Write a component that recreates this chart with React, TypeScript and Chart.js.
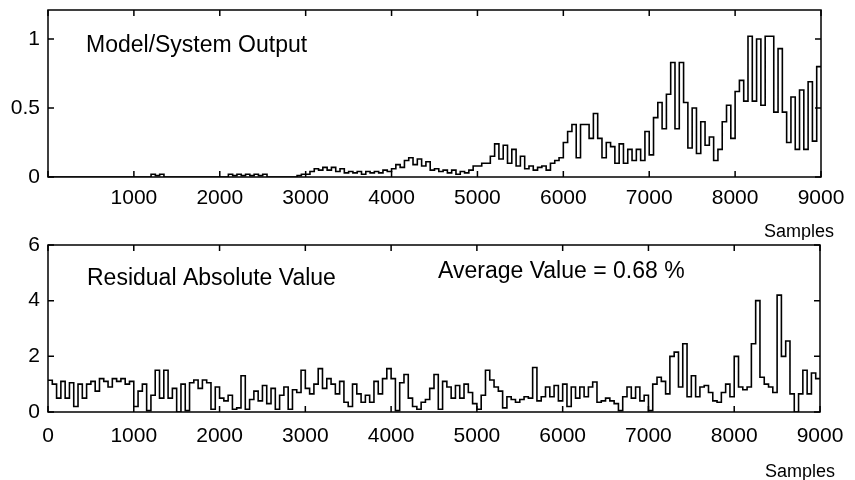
import React, { useEffect, useRef } from "react";
import { Chart, registerables } from "chart.js";

Chart.register(...registerables);

const SAMPLE_STEP = 50;
const X_MAX = 9000;
const xTickValues = [0, 1000, 2000, 3000, 4000, 5000, 6000, 7000, 8000, 9000];

const outputValues = [
  0, 0, 0, 0, 0, 0, 0, 0, 0, 0, 0, 0, 0, 0, 0, 0, 0, 0, 0, 0,
  0, 0, 0, 0, 0.02, 0.01, 0.02, 0, 0, 0, 0, 0, 0, 0, 0, 0, 0, 0, 0, 0,
  0, 0, 0.02, 0.01, 0.02, 0.01, 0.02, 0.01, 0.02, 0.01, 0.02, 0, 0, 0, 0, 0, 0, 0, 0.01, 0.02,
  0.02, 0.04, 0.06, 0.05, 0.07, 0.05, 0.07, 0.04, 0.06, 0.03, 0.04, 0.03, 0.04, 0.02, 0.04, 0.03, 0.04, 0.03, 0.05, 0.04,
  0.06, 0.09, 0.07, 0.12, 0.14, 0.09, 0.13, 0.08, 0.11, 0.05, 0.06, 0.04, 0.05, 0.03, 0.05, 0.02, 0.04, 0.03, 0.05, 0.08,
  0.08, 0.1, 0.1, 0.15, 0.24, 0.13, 0.23, 0.1, 0.2, 0.08, 0.15, 0.06, 0.08, 0.05, 0.07, 0.08, 0.05, 0.1, 0.12, 0.14,
  0.25, 0.33, 0.38, 0.14, 0.38, 0.38, 0.28, 0.46, 0.28, 0.14, 0.25, 0.22, 0.1, 0.24, 0.1, 0.2, 0.12, 0.2, 0.12, 0.33,
  0.16, 0.43, 0.54, 0.35, 0.6, 0.83, 0.35, 0.83, 0.54, 0.21, 0.5, 0.17, 0.4, 0.23, 0.29, 0.12, 0.2, 0.4, 0.52, 0.28,
  0.62, 0.7, 0.55, 1.02, 0.55, 1.0, 0.52, 1.02, 1.02, 0.47, 0.93, 0.47, 0.25, 0.58, 0.2, 0.63, 0.2, 0.69, 0.26, 0.8,
];

const residualValues = [
  1.14, 1.0, 0.5, 1.1, 0.5, 1.05, 0.2, 1.0, 0.5, 1.0, 1.1, 0.75, 1.2, 1.1, 0.9, 1.2, 1.1, 1.2, 1.0, 1.1,
  0.2, 0.75, 1.0, 0.05, 0.6, 1.5, 0.5, 1.5, 0.5, 0.85, 0, 1.0, 0.05, 1.05, 1.15, 0.85, 1.15, 1.05, 0.1, 0.9,
  0.5, 0.4, 0.6, 0.1, 0.15, 1.3, 0.1, 0.45, 0.75, 0.4, 0.95, 0.3, 0.85, 0.1, 0.6, 0.9, 0.1, 0.8, 0.7, 1.5,
  0.85, 0.65, 1.0, 1.56, 0.85, 1.2, 1.0, 0.65, 1.1, 0.35, 0.2, 1.0, 0.65, 0.35, 0.6, 0.35, 1.1, 0.65, 1.2, 1.56,
  1.2, 0.05, 1.05, 1.35, 0.5, 0.2, 0.1, 0.35, 0.45, 0.85, 1.35, 0.1, 1.1, 0.9, 0.5, 0.95, 0.5, 1.0, 0.7, 0.3,
  0.1, 0.6, 1.5, 1.15, 0.9, 0.75, 0.15, 0.55, 0.45, 0.35, 0.45, 0.55, 0.5, 1.6, 0.4, 0.55, 0.9, 0.55, 0.95, 0.4,
  1.0, 0.2, 0.9, 0.5, 0.9, 0.55, 0.9, 1.08, 0.35, 0.4, 0.5, 0.4, 0.3, 0.05, 0.55, 0.9, 0.5, 0.9, 0.4, 0.6,
  0.05, 1.0, 1.25, 1.1, 0.65, 2.0, 2.15, 0.9, 2.45, 0.55, 1.3, 0.55, 0.9, 0.95, 0.7, 0.4, 0.35, 0.7, 1.0, 0.55,
  2.0, 0.9, 0.8, 0.9, 2.45, 4.0, 1.25, 1.0, 0.9, 0.7, 4.2, 2.0, 2.55, 0.65, 0, 0.65, 1.5, 0.65, 1.4, 1.2,
];

const topTitle = "Model/System Output";
const bottomTitle = "Residual Absolute Value";
const averageLabel = "Average Value = 0.68 %";
const xAxisTitle = "Samples";

const FONT = "'Liberation Sans', Arial, Helvetica, sans-serif";

function toSteps(values: number[]) {
  const pts = values.map((v, i) => ({ x: i * SAMPLE_STEP, y: v }));
  pts.push({ x: X_MAX, y: values[values.length - 1] });
  return pts;
}

type TextItem = { text: string; x: number; y: number; size: number; align?: CanvasTextAlign };

const framePlugin = {
  id: "frame",
  afterDraw(chart: any, _args: any, opts: any) {
    const { ctx, chartArea: a, scales } = chart;
    const x = scales.x;
    const y = scales.y;
    ctx.save();
    ctx.strokeStyle = "#000";
    ctx.lineWidth = 1.5;
    ctx.strokeRect(a.left, a.top, a.right - a.left, a.bottom - a.top);
    const L = 6;
    ctx.beginPath();
    for (const t of x.ticks) {
      const px = x.getPixelForValue(t.value);
      ctx.moveTo(px, a.bottom);
      ctx.lineTo(px, a.bottom - L);
      ctx.moveTo(px, a.top);
      ctx.lineTo(px, a.top + L);
    }
    for (const t of y.ticks) {
      const py = y.getPixelForValue(t.value);
      ctx.moveTo(a.left, py);
      ctx.lineTo(a.left + L, py);
      ctx.moveTo(a.right, py);
      ctx.lineTo(a.right - L, py);
    }
    ctx.stroke();
    ctx.fillStyle = "#000";
    ctx.textBaseline = "alphabetic";
    for (const it of (opts.items || []) as TextItem[]) {
      ctx.font = `${it.size}px ${FONT}`;
      ctx.textAlign = it.align || "left";
      ctx.fillText(it.text, it.x, it.y);
    }
    ctx.restore();
  },
};

function makeConfig(
  values: number[],
  yMax: number,
  yStep: number,
  showZeroX: boolean,
  pad: { top: number; right: number },
  xHeight: number,
  xPad: number,
  items: TextItem[]
): any {
  return {
    type: "line",
    data: {
      datasets: [
        {
          data: toSteps(values),
          stepped: "before",
          borderColor: "#000",
          borderWidth: 1.6,
          pointRadius: 0,
          fill: false,
        },
      ],
    },
    options: {
      animation: false,
      responsive: false,
      events: [],
      layout: { padding: { top: pad.top, right: pad.right, left: 0, bottom: 0 } },
      plugins: {
        legend: { display: false },
        tooltip: { enabled: false },
        frame: { items },
      },
      scales: {
        x: {
          type: "linear",
          min: 0,
          max: X_MAX,
          afterBuildTicks: (s: any) => {
            s.ticks = xTickValues.map((v) => ({ value: v }));
          },
          afterFit: (s: any) => {
            s.height = xHeight;
            s.paddingLeft = 0;
            s.paddingRight = 0;
          },
          border: { display: false },
          grid: { display: false, drawTicks: false },
          ticks: {
            autoSkip: false,
            maxRotation: 0,
            padding: xPad,
            color: "#000",
            font: { family: FONT, size: 21 },
            callback: (v: number) => (v === 0 && !showZeroX ? "" : String(v)),
          },
        },
        y: {
          type: "linear",
          min: 0,
          max: yMax,
          afterBuildTicks: (s: any) => {
            s.ticks = s.ticks.filter(
              (t: any) => Math.abs(t.value / yStep - Math.round(t.value / yStep)) < 1e-6
            );
          },
          afterFit: (s: any) => {
            s.width = 48;
            s.paddingTop = 0;
            s.paddingBottom = 0;
          },
          border: { display: false },
          grid: { display: false, drawTicks: false },
          ticks: {
            stepSize: yStep,
            padding: 8,
            color: "#000",
            font: { family: FONT, size: 21 },
            callback: (v: number) => String(v),
          },
        },
      },
    },
    plugins: [framePlugin],
  };
}

function Panel({ config, top, height }: { config: any; top: number; height: number }) {
  const ref = useRef<HTMLCanvasElement | null>(null);
  useEffect(() => {
    if (!ref.current) return;
    const chart = new Chart(ref.current, config);
    return () => chart.destroy();
  }, []);
  return (
    <canvas
      ref={ref}
      width={855}
      height={height}
      style={{ position: "absolute", left: 0, top, width: 855, height }}
    />
  );
}

export default function App() {
  // top panel canvas: y 0..240, plot area y 10..177
  const topConfig = makeConfig(
    outputValues,
    1.21,
    0.5,
    false,
    { top: 10, right: 34 },
    63,
    9,
    [
      { text: topTitle, x: 86, y: 52, size: 23 },
      { text: xAxisTitle, x: 834, y: 237, size: 18, align: "right" },
    ]
  );
  // bottom panel canvas: y 220..480, plot area y 245..412
  const bottomConfig = makeConfig(
    residualValues,
    6,
    2,
    true,
    { top: 25, right: 35 },
    68,
    12,
    [
      { text: bottomTitle, x: 87, y: 65, size: 23 },
      { text: averageLabel, x: 438, y: 58, size: 23 },
      { text: xAxisTitle, x: 835, y: 257, size: 18, align: "right" },
    ]
  );
  return (
    <div style={{ position: "absolute", left: 0, top: 0, width: 855, height: 480, background: "#fff" }}>
      <Panel config={topConfig} top={0} height={240} />
      <Panel config={bottomConfig} top={220} height={260} />
    </div>
  );
}
